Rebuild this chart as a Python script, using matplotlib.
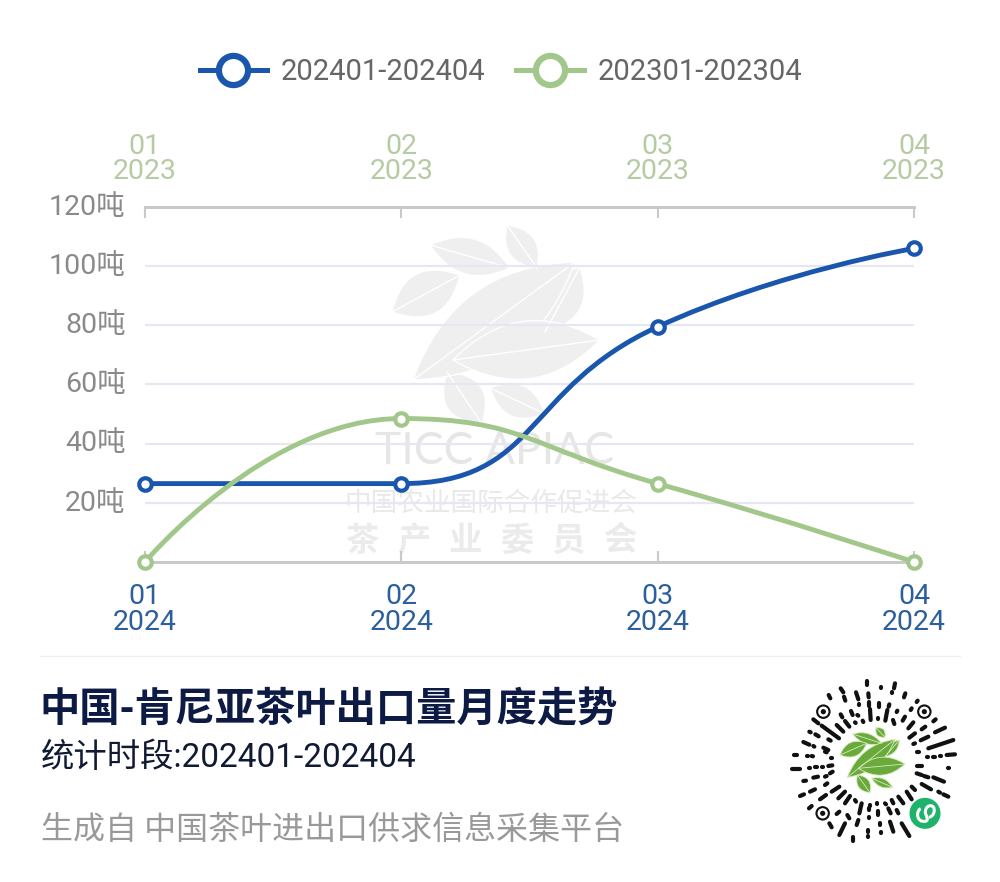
import matplotlib
matplotlib.use('Agg')
import matplotlib.pyplot as plt
from matplotlib.lines import Line2D
from matplotlib.patches import Circle, PathPatch
from matplotlib.path import Path
from matplotlib.transforms import ScaledTranslation

plt.rcParams['font.family'] = ['Roboto', 'Noto Sans CJK SC', 'DejaVu Sans']

months = [0, 1, 2, 3]
labels_2024 = ['01\n2024', '02\n2024', '03\n2024', '04\n2024']
labels_2023 = ['01\n2023', '02\n2023', '03\n2023', '04\n2023']
tons_2024 = [26.5, 26.5, 79.5, 106]
tons_2023 = [0, 48.5, 26.5, 0]
y_ticks = [20, 40, 60, 80, 100, 120]
series_names = ['202401-202404', '202301-202304']

BLUE = '#1b56ad'
GREEN = '#a2c78b'
LEAF_GREY = '#efefef'
CODE_GREEN = '#6aaa3c'

# strokes of the round code: x1, y1, x2, y2 in a 630x600 local grid
code_strokes = [
    (291, 62, 291, 75), (332, 80, 332, 85), (375, 70, 372, 85), (212, 85, 220, 97),
    (258, 97, 265, 118), (295, 100, 296, 112), (176, 105, 181, 115), (222, 110, 226, 122),
    (367, 96, 367, 100), (406, 100, 402, 112), (296, 125, 296, 138), (327, 128, 327, 140),
    (267, 132, 267, 134), (358, 133, 356, 140), (443, 122, 440, 126), (382, 152, 380, 156),
    (243, 153, 248, 165), (212, 163, 217, 172), (300, 147, 302, 180), (352, 150, 346, 182),
    (425, 145, 422, 150), (262, 165, 265, 167), (323, 175, 323, 177), (369, 180, 373, 192),
    (405, 170, 398, 182), (225, 183, 238, 200), (278, 182, 280, 186), (255, 187, 257, 189),
    (130, 178, 145, 190), (497, 178, 490, 184), (200, 195, 220, 215), (155, 197, 207, 235),
    (430, 187, 415, 205), (118, 215, 122, 217), (466, 200, 455, 208), (525, 203, 495, 217),
    (136, 223, 146, 229), (435, 220, 418, 233), (475, 230, 452, 241), (100, 246, 118, 254),
    (175, 238, 182, 242), (160, 263, 175, 270), (130, 258, 133, 260), (550, 240, 475, 265),
    (435, 250, 430, 252), (72, 285, 82, 285), (110, 288, 114, 288), (125, 288, 129, 289),
    (165, 275, 170, 277), (183, 295, 186, 295), (440, 277, 448, 277), (470, 292, 474, 292),
    (490, 290, 495, 290), (510, 288, 514, 288), (530, 285, 555, 283), (67, 326, 90, 326),
    (117, 323, 120, 323), (135, 322, 140, 322), (155, 320, 160, 320), (175, 318, 187, 316),
    (440, 318, 455, 318), (535, 325, 538, 325), (130, 353, 144, 350), (100, 363, 108, 362),
    (165, 350, 170, 348), (180, 340, 188, 335), (440, 340, 455, 345), (462, 348, 475, 352),
    (490, 352, 522, 365), (165, 375, 172, 370), (90, 408, 102, 403), (120, 395, 135, 388),
    (150, 418, 168, 405), (185, 395, 208, 380), (205, 415, 225, 395), (225, 430, 240, 408),
    (455, 372, 483, 388), (425, 380, 435, 390), (505, 395, 510, 398), (520, 403, 535, 410),
    (410, 395, 425, 418), (385, 410, 400, 430), (365, 420, 370, 430), (117, 445, 125, 438),
    (255, 420, 258, 425), (200, 462, 208, 455), (275, 430, 268, 460), (300, 435, 300, 438),
    (320, 430, 320, 433), (345, 430, 348, 433), (355, 445, 362, 460), (380, 450, 385, 460),
    (325, 452, 325, 465), (298, 445, 298, 450), (298, 470, 298, 475), (232, 465, 238, 475),
    (178, 490, 185, 502), (265, 480, 260, 495), (360, 485, 370, 515), (395, 490, 418, 528),
    (225, 490, 208, 525), (330, 490, 330, 495), (332, 515, 332, 520), (294, 510, 294, 515),
    (294, 528, 294, 532), (250, 530, 250, 542),
]
code_leaves = [
    (345, 290, 388, 240, 14), (318, 203, 345, 232, 14), (248, 222, 335, 250, 17),
    (210, 285, 290, 250, 24), (232, 352, 375, 238, 30), (262, 345, 300, 398, 20),
    (305, 355, 368, 382, 14), (265, 325, 405, 312, 30),
]
# background emblem leaves: x1, y1, x2, y2, half width in canvas pixels
emblem_leaves = [
    (507, 225, 537, 268, 16), (430, 245, 510, 268, 20), (392, 312, 460, 275, 24),
    (580, 267, 545, 332, 22), (447, 372, 482, 424, 22), (490, 388, 545, 414, 18),
    (413, 380, 575, 262, 38), (453, 360, 600, 340, 32),
]

X_PX = 769 / 3
Y_PX = 355 / 120


def smooth_path(x, y, smooth=0.5):
    # bezier through the points; handles follow the neighbours and split by
    # on-screen segment length, flat at local extremes and flat runs
    n = len(x)
    verts = [(x[0], y[0])]
    codes = [Path.MOVETO]
    seg = [(((x[i + 1] - x[i]) * X_PX) ** 2 + ((y[i + 1] - y[i]) * Y_PX) ** 2) ** 0.5 for i in range(n - 1)]
    out_h = [(x[0], y[0])] * n
    in_h = [(x[-1], y[-1])] * n
    for i in range(1, n - 1):
        vx = x[i + 1] - x[i - 1]
        flat = (y[i] - y[i - 1]) * (y[i + 1] - y[i]) <= 0
        vy = 0 if flat else y[i + 1] - y[i - 1]
        a = smooth * seg[i - 1] / (seg[i - 1] + seg[i])
        b = smooth * seg[i] / (seg[i - 1] + seg[i])
        in_h[i] = (x[i] - vx * a, y[i] - vy * a)
        out_h[i] = (x[i] + vx * b, y[i] + vy * b)
    for i in range(n - 1):
        verts += [out_h[i], in_h[i + 1], (x[i + 1], y[i + 1])]
        codes += [Path.CURVE4] * 3
    return Path(verts, codes)


def draw_leaf(ax, x1, y1, x2, y2, w, color, vein, vein_lw=0.8, zorder=1):
    # two quadratic edges bulging either side of the tip-to-tip axis
    mx, my = (x1 + x2) / 2, (y1 + y2) / 2
    dx, dy = x2 - x1, y2 - y1
    n = (dx ** 2 + dy ** 2) ** 0.5
    ox, oy = -dy / n * w * 1.8, dx / n * w * 1.8
    path = Path([(x1, y1), (mx + ox, my + oy), (x2, y2), (mx - ox, my - oy), (x1, y1)],
                [Path.MOVETO, Path.CURVE3, Path.CURVE3, Path.CURVE3, Path.CURVE3])
    ax.add_patch(PathPatch(path, facecolor=color, edgecolor=vein, lw=vein_lw, zorder=zorder))
    ax.plot([x1, x2], [y1, y2], color=vein, lw=vein_lw, zorder=zorder + 0.1)


fig = plt.figure(figsize=(10, 8.82), dpi=100, facecolor='white')

# full-canvas layer in pixel units for the emblem, footer text and code
bg = fig.add_axes([0, 0, 1, 1], zorder=0)
bg.set_xlim(0, 1000)
bg.set_ylim(882, 0)
bg.axis('off')

for x1, y1, x2, y2, w in emblem_leaves:
    draw_leaf(bg, x1, y1, x2, y2, w, LEAF_GREY, 'white', 1.0)
bg.text(495, 452, 'TICC APIAC', fontsize=32, color='#e6e6e6', ha='center', va='center',
        family=['Lato', 'DejaVu Sans'])
bg.text(491, 503, '中国农业国际合作促进会', fontsize=19.2, color='#e9e9e9', ha='center', va='center',
        family=['Noto Sans CJK SC', 'DejaVu Sans'])
for i, ch in enumerate('茶产业委员会'):
    bg.text(362 + i * 51.5, 541, ch, fontsize=24, color='#ebebeb', ha='center', va='center',
            family=['Noto Sans CJK SC', 'DejaVu Sans'], fontweight='bold')

bg.plot([40, 960], [656, 656], color='#efefef', lw=1)
bg.text(39, 710, '中国-肯尼亚茶叶出口量月度走势', fontsize=29, color='#0c1a44', fontweight='bold',
        ha='left', va='center', family=['Noto Sans CJK SC', 'DejaVu Sans'])
bg.text(41, 758, '统计时段:202401-202404', fontsize=24, color='#111a33', ha='left', va='center')
bg.text(41, 830, '生成自 中国茶叶进出口供求信息采集平台', fontsize=23, color='#999999', ha='left', va='center',
        family=['Noto Sans CJK SC', 'DejaVu Sans'])


def cx(v):
    return 770 + v / 3


def cy(v):
    return 660 + v / 3


for x1, y1, x2, y2 in code_strokes:
    bg.plot([cx(x1), cx(x2)], [cy(y1), cy(y2)], color='#111111', lw=3.0, solid_capstyle='round')
for qx, qy in [(160, 155), (463, 155), (158, 460)]:
    bg.add_patch(Circle((cx(qx), cy(qy)), 6.2, facecolor='none', edgecolor='#111111', lw=1.5))
    bg.add_patch(Circle((cx(qx), cy(qy)), 2.6, facecolor='#111111', edgecolor='none'))
for x1, y1, x2, y2, w in code_leaves:
    draw_leaf(bg, cx(x1), cy(y1), cx(x2), cy(y2), w / 3, CODE_GREEN, '#d5ecb8', 0.6, zorder=3)
bg.add_patch(Circle((cx(465), cy(460)), 15.5, facecolor='#1fb26b', edgecolor='none', zorder=3))
chain = Path([(cx(452), cy(446)), (cx(438), cy(452)), (cx(438), cy(488)), (cx(466), cy(484)),
              (cx(480), cy(480)), (cx(465), cy(465)), (cx(466), cy(455)),
              (cx(468), cy(430)), (cx(498), cy(432)), (cx(492), cy(456)),
              (cx(490), cy(466)), (cx(484), cy(470)), (cx(477), cy(472))],
             [Path.MOVETO] + [Path.CURVE4] * 12)
bg.add_patch(PathPatch(chain, facecolor='none', edgecolor='white', lw=2.2, zorder=4))

# chart axes; the canvas is 1000x882 so positions are pixel fractions
ax = fig.add_axes([145 / 1000, 1 - 562 / 882, (914 - 145) / 1000, (562 - 207) / 882], zorder=1)
ax.patch.set_alpha(0)
ax.set_xlim(0, 3)
ax.set_ylim(0, 120)
for side in ['left', 'right']:
    ax.spines[side].set_visible(False)
for side in ['top', 'bottom']:
    ax.spines[side].set_color('#c9c9c9')
    ax.spines[side].set_linewidth(2)

ax.set_xticks(months)
ax.set_xticklabels(labels_2024, color='#2b5f9f', fontsize=20.5, linespacing=0.95)
ax.tick_params(axis='x', direction='in', length=8, width=1.5, color='#c9c9c9', pad=15)
ax.set_yticks(y_ticks)
ax.set_yticklabels([f'{v}吨' for v in y_ticks], color='#8a8a8a', fontsize=20.5)
ax.tick_params(axis='y', length=0, pad=14)
lift = ScaledTranslation(0, 2 / 72, fig.dpi_scale_trans)
for lab in ax.get_yticklabels():
    lab.set_transform(lab.get_transform() + lift)
for v in y_ticks[:-1]:
    ax.axhline(v, color='#e6e7f3', lw=1.6, zorder=1)

top = ax.twiny()
top.patch.set_alpha(0)
top.set_xlim(0, 3)
top.set_xticks(months)
top.set_xticklabels(labels_2023, color='#b6cba3', fontsize=20.5, linespacing=0.9)
top.tick_params(axis='x', direction='in', length=8, width=1.5, color='#c9c9c9', pad=16)
for side in ['left', 'right']:
    top.spines[side].set_visible(False)
for side in ['top', 'bottom']:
    top.spines[side].set_color('#c9c9c9')
    top.spines[side].set_linewidth(2)

for vals, color, z in [(tons_2024, BLUE, 4), (tons_2023, GREEN, 5)]:
    top.add_patch(PathPatch(smooth_path(months, vals), facecolor='none', edgecolor=color,
                            lw=3.5, clip_on=False, zorder=z))
    top.plot(months, vals, ls='none', marker='o', ms=9, mew=3, mfc='white', mec=color,
             clip_on=False, zorder=z + 0.5)

handles = [Line2D([], [], color=c, lw=3.6, marker='o', ms=21, mew=4.5, mfc='white', mec=c)
           for c in [BLUE, GREEN]]
leg = fig.legend(handles, series_names, loc='center', bbox_to_anchor=(0.501, 1 - 72 / 882), ncols=2,
                 frameon=False, fontsize=21, labelcolor='#666666', handlelength=2.3,
                 handletextpad=0.48, columnspacing=1.06, numpoints=1)

fig.savefig('out.png', dpi=100, facecolor='white')
